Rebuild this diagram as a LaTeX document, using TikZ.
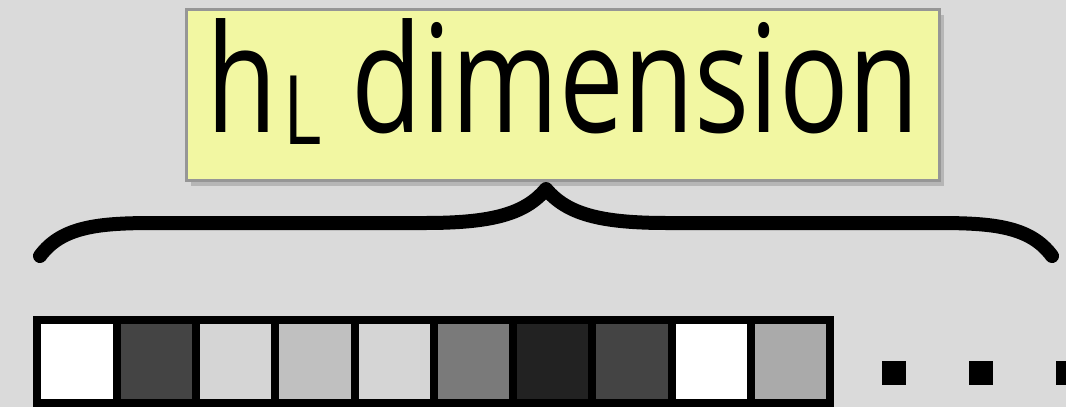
\documentclass[tikz,border=0pt]{standalone}
\usepackage{fontspec}
\usepackage{tikz}
\usetikzlibrary{shadows}
\newfontfamily\labelfont[FakeStretch=0.77]{Open Sans}
\definecolor{bggray}{RGB}{218, 218, 218}
\definecolor{notefill}{RGB}{242, 247, 162}
\definecolor{noteedge}{RGB}{150, 150, 150}
\definecolor{cdark}{RGB}{68, 68, 68}
\definecolor{cdarker}{RGB}{34, 34, 34}
\definecolor{cmid}{RGB}{122, 122, 122}
\definecolor{clight}{RGB}{213, 213, 213}
\definecolor{csilver}{RGB}{192, 192, 192}
\definecolor{cgray}{RGB}{170, 170, 170}
\tikzset{
    lblbox/.style={draw=noteedge, line width=3pt, fill=notefill,
                   minimum width=753pt, minimum height=171pt, inner sep=0pt,
                   font=\labelfont\fontsize{150}{155}\selectfont, text depth=38pt,
                   drop shadow={shadow xshift=4pt, shadow yshift=-5pt, opacity=0.4}},
    cell/.style  ={draw=black, line width=8pt, minimum width=79.3pt,
                   minimum height=83pt, inner sep=0pt, outer sep=0pt},
    dotsq/.style ={fill=black, minimum size=24pt, inner sep=0pt},
    brc/.style   ={line width=14pt, line cap=round, line join=round}
}
\newcommand{\subL}{\hspace{6pt}\raisebox{-12pt}{\fontsize{96}{96}\selectfont L}}

\begin{document}
\begin{tikzpicture}[x=1pt, y=-1pt]
  \clip (0,0) rectangle (1066,407);
  \fill[bggray] (0,0) rectangle (1066,407);

  \node[lblbox] (dimlabel) at (563,95) {h\subL\ dimension};

  % the brace
  \coordinate (brL)   at (40,256);
  \coordinate (brTip) at (546,189);
  \coordinate (brR)   at (1052,256);
  \draw[brc] (brL) .. controls (62,226) and (100,223) .. (155,223) -- (425,223)
             .. controls (492,223) and (525,214) .. (brTip)
             .. controls (567,214) and (600,223) .. (667,223) -- (937,223)
             .. controls (992,223) and (1030,226) .. (brR);

  % cells of the vector
  \foreach \shade [count=\i from 0] in {white,cdark,clight,csilver,clight,cmid,cdarker,cdark,white,cgray}
    \node[cell, fill=\shade] (c\i) at ({76.95+79.3*\i},361.5) {};

  % trailing dots
  \foreach \k in {1,2,3}
    \node[dotsq] (dot\k) at ({893.5+87*(\k-1)},373) {};
\end{tikzpicture}
\end{document}
